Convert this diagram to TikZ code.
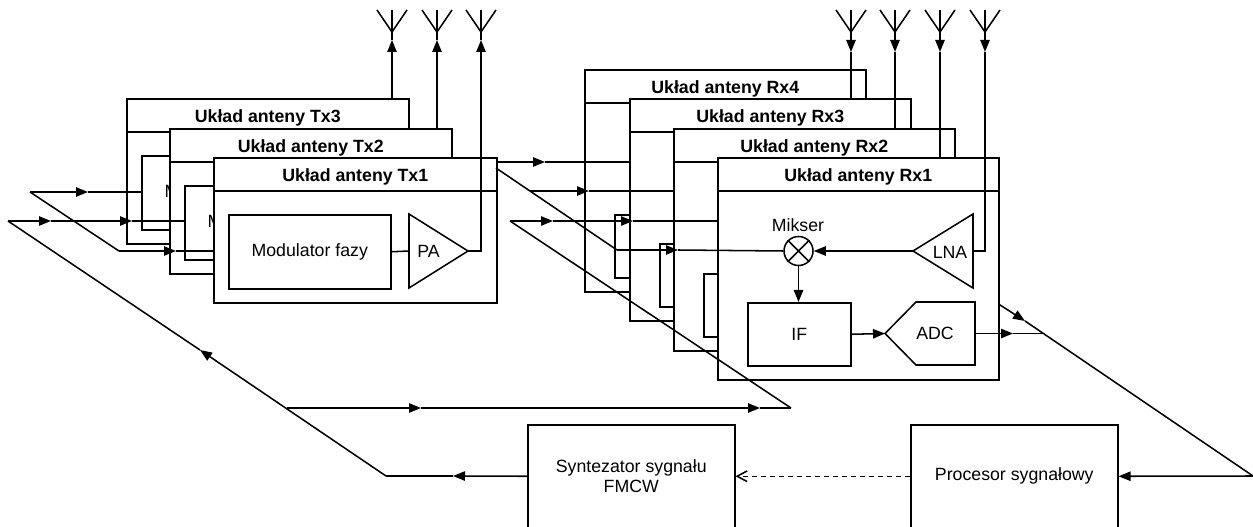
\documentclass[tikz,border=0pt]{standalone}
\usepackage{fontspec}
\setmainfont{Liberation Sans}
\usetikzlibrary{arrows.meta,calc}
\tikzset{
  x=0.75pt,y=-0.75pt,
  wire/.style={line width=1.15pt,line join=miter},
  flow/.style={wire,-{Triangle[length=9pt,width=7pt]}},
  dflow/.style={line width=1.15pt,dash pattern=on 3.75pt off 3pt,-{Straight Barb[length=7.5pt,width=8pt,line width=1.15pt]}},
  block/.style={draw,wire,fill=white,inner sep=0pt,align=center,font=\fontsize{13.3}{15}\selectfont},
  title/.style={font=\bfseries\fontsize{13.3}{15}\selectfont,inner sep=0pt},
  lbl/.style={font=\fontsize{13.3}{15}\selectfont,inner sep=0pt},
}
% name, left, top, width, height
\newcommand{\unitbox}[6]{%
  \node[block,minimum width=#4*0.75pt,minimum height=#5*0.75pt,anchor=north west] (#1) at (#2,#3) {};
  \draw[wire] ($(#1.north west)+(0,34)$) -- ($(#1.north east)+(0,34)$);
  \node[title] (#1t) at ($(#1.north)+(0,19.5)$) {Układ anteny #6};
}
\newcommand{\txbody}[1]{%
  \node[block,minimum width=162*0.75pt,minimum height=74*0.75pt,anchor=north west] (#1m) at ($(#1.north west)+(15,57)$) {\raisebox{-0.8pt}{Modulator fazy}};
}
\newcommand{\rxbody}[1]{%
  \node[block,minimum width=103*0.75pt,minimum height=63*0.75pt,anchor=north west] (#1if) at ($(#1.north west)+(30,145)$) {IF};
}
\newcommand{\antenna}[3]{% name, x, y apex
  \coordinate (#1) at (#2,#3);
  \draw[wire] (#2,10) -- (#1);
  \draw[wire] (#2-15,10) -- (#1) -- (#2+15,10);
}
\begin{document}
\begin{tikzpicture}
\useasboundingbox (0,0) rectangle (1253,527);
% antennas
\antenna{ta3}{392}{32}
\antenna{ta2}{437}{32}
\antenna{ta1}{481}{32}
\antenna{ra4}{851}{32}
\antenna{ra3}{895}{32}
\antenna{ra2}{940}{32}
\antenna{ra1}{985}{32}
% --- Tx stack
\unitbox{tx3}{126}{98}{282}{145}{Tx3}
\txbody{tx3}
\draw[flow] (tx3.north -| ta3) -- ($(ta3)+(0,8)$);
\draw[wire] ($(ta3)+(0,8)$) -- (ta3);
\unitbox{tx2}{169}{128}{282}{145}{Tx2}
\txbody{tx2}
\draw[flow] (tx2.north -| ta2) -- ($(ta2)+(0,8)$);
\draw[wire] ($(ta2)+(0,8)$) -- (ta2);
\unitbox{tx1}{213}{157}{283}{145}{Tx1}
\txbody{tx1}
\coordinate (pain) at (409,251);
\coordinate (patip) at (468,251);
\draw[wire,fill=white] (409,214) -- (patip) -- (409,288) -- cycle;
\node[lbl] (palbl) at (428.5,251) {PA};
\draw[wire] (tx1m.east) -- (pain);
\draw[flow] (patip) -- (patip -| ta1) -- ($(ta1)+(0,8)$);
\draw[wire] ($(ta1)+(0,8)$) -- (ta1);
% --- Rx stack
\unitbox{rx4}{584}{69}{281}{222}{Rx4}
\rxbody{rx4}
\unitbox{rx3}{629}{98}{281}{222}{Rx3}
\rxbody{rx3}
\unitbox{rx2}{673}{128}{281}{222}{Rx2}
\rxbody{rx2}
\unitbox{rx1}{717}{157}{281}{222}{Rx1}
\rxbody{rx1}
% antenna down-lines
\draw[flow] (ra4) -- (851,52); \draw[wire] (851,52) -- (rx3.north -| ra4);
\draw[flow] (ra3) -- (895,52); \draw[wire] (895,52) -- (rx2.north -| ra3);
\draw[flow] (ra2) -- (940,52); \draw[wire] (940,52) -- (rx1.north -| ra2);
\draw[flow] (ra1) -- (985,52);
% mixer
\node[draw,wire,circle,fill=white,minimum size=29*0.75pt,inner sep=0pt] (mix) at (798.5,251) {};
\draw[wire] (mix.north west) -- (mix.south east) (mix.north east) -- (mix.south west);
\node[lbl] (mixl) at (798,225) {Mikser};
% LNA
\coordinate (lnatip) at (913,251);
\coordinate (lnar) at (973,251);
\draw[wire,fill=white] (973,214) -- (lnatip) -- (973,288) -- cycle;
\node[lbl] (lnal) at (950,252) {LNA};
\draw[wire] (985,52) -- (985,251) -- (lnar);
\draw[flow] (lnatip) -- (mix.east);
\draw[flow] (mix.south) -- (rx1if.north -| mix.south);
% ADC
\coordinate (adctip) at (885,333.5);
\coordinate (adcr) at (975,333.5);
\draw[wire,fill=white] (adctip) -- (916,302) -- (975,302) -- (975,365) -- (916,365) -- cycle;
\node[lbl] (adcl) at (935,333.5) {ADC};
\draw[flow] (rx1if.east) -- (adctip);
\coordinate (adcm) at (1013,333.5);
\coordinate (adce) at (1043,333.5);
\draw[flow] (adcr) -- (adcm); \draw[wire] (adcm) -- (adce);
% lower blocks
\node[block,minimum width=207*0.75pt,minimum height=103*0.75pt,anchor=north west] (syn) at (527,424) {Syntezator sygnału\\FMCW};
\node[block,minimum width=207*0.75pt,minimum height=103*0.75pt,anchor=north west] (proc) at (910,424) {\raisebox{-1.2pt}{Procesor sygnałowy}};
\draw[dflow] (proc.west) -- (syn.east);
% right return
\coordinate (rb) at (1253,476);
\coordinate (rs) at (998.5,304);
\coordinate (rm) at (1025,321);
\draw[flow] (rs) -- (rm); \draw[wire] (rm) -- (rb);
\draw[flow] (rb) -- (proc.east);
% synth output
\coordinate (sa) at (386,476);
\coordinate (sm) at (453,476);
\coordinate (dm) at (200,350);
\coordinate (dj) at (287,408);
\coordinate (dl) at (8,221);
\draw[flow] (syn.west) -- (sm); \draw[wire] (sm) -- (sa);
\draw[flow] (sa) -- (dm); \draw[wire] (dm) -- (dl);
% branch along y=408
\coordinate (h1) at (421,408);
\coordinate (h2) at (760,408);
\coordinate (hr) at (791,408);
\draw[flow] (dj) -- (h1); \draw[flow] (h1) -- (h2); \draw[wire] (h2) -- (hr);
\coordinate (rl) at (510,221);
\draw[wire] (hr) -- (rl);
% Tx inputs
\coordinate (l1) at (30,192);
\coordinate (l1b) at (119,251);
\draw[wire] (l1) -- (l1b);
\draw[flow] (l1) -- (88,192); \draw[wire] (88,192) -- (tx3m.west |- l1);
\draw[flow] (dl) -- (51,221); \draw[flow] (51,221) -- (132,221); \draw[wire] (132,221) -- (tx2m.west |- dl);
\draw[flow] (l1b) -- (176,251); \draw[wire] (176,251) -- (tx1.west |- l1b);
% Rx local lines
\coordinate (u0) at (tx1.east |- 0,162);
\draw[flow] (u0) -- (545,162); \draw[wire] (545,162) -- (rx3.west |- 0,162);
\coordinate (d0) at (496,168);
\coordinate (d1) at (617,250);
\draw[wire] (d0) -- (d1);
\coordinate (d2) at (530,191);
\draw[flow] (d2) -- (589,191); \draw[wire] (589,191) -- (rx2.west |- 0,191);
\draw[flow] (rl) -- (553,221); \draw[flow] (553,221) -- (633,221); \draw[wire] (633,221) -- (rx1.west |- 0,221);
\draw[flow] (d1) -- (678,250); \draw[wire] (678,250) -- (mix.west);
\end{tikzpicture}
\end{document}
